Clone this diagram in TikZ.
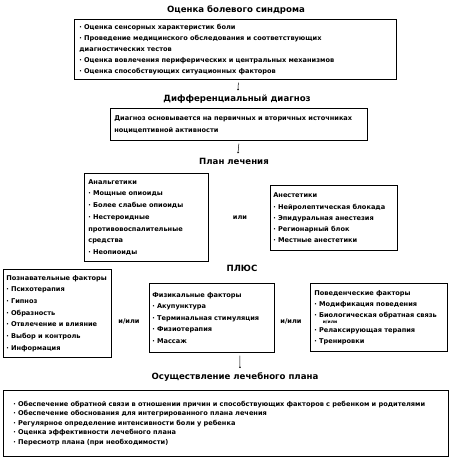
\documentclass[tikz,border=0pt]{standalone}
\usepackage{fontspec}
\setmainfont{DejaVu Sans}
\usetikzlibrary{arrows.meta,calc}
\begin{document}
\begin{tikzpicture}[x=1pt,y=-1pt,
  box/.style={draw, line width=0.7pt, anchor=north west, inner xsep=5pt, inner ysep=0pt, align=left},
  bt/.style={font=\bfseries\fontsize{6.6}{#1}\selectfont},
  ttl/.style={font=\bfseries\fontsize{8.6}{10}\selectfont},
  sm/.style={font=\bfseries\fontsize{6.6}{8}\selectfont},
  arr/.style={-{To[length=1.5pt,width=2pt]}, line width=0.5pt}]
\useasboundingbox (0,0) rectangle (450,458);

\node[ttl] (t1) at (236,10) {Оценка болевого синдрома};
\node[box, bt=11, text width=312pt, minimum height=60pt] (b1) at (74,19) {%
· Оценка сенсорных характеристик боли\\
· Проведение медицинского обследования и соответствующих\\
диагностических тестов\\
· Оценка вовлечения периферических и центральных механизмов\\
· Оценка способствующих ситуационных факторов};

\node[ttl] (t2) at (237,99) {Дифференциальный диагноз};
\node[box, bt=12, text width=249pt, minimum height=32pt, inner xsep=4pt] (b2) at (110,108) {%
Диагноз основывается на первичных и вторичных источниках\\
ноцицептивной активности};

\node[ttl] (t3) at (234,161) {План лечения};
\node[box, bt=11.7, text width=116pt, minimum height=88pt, inner xsep=4pt] (b3) at (84,173) {%
Анальгетики\\
· Мощные опиоиды\\
· Более слабые опиоиды\\
· Нестероидные\\
противовоспалительные\\
средства\\
· Неопиоиды};
\node[sm] (or1) at (240,218) {или};
\node[box, bt=11.2, text width=121pt, minimum height=65pt, inner xsep=3pt] (b4) at (270,185) {%
Анестетики\\
· Нейролептическая блокада\\
· Эпидуральная анестезия\\
· Регионарный блок\\
· Местные анестетики};

\node[ttl] (t4) at (242,268) {ПЛЮС};
\node[box, bt=11.7, text width=102pt, minimum height=88pt, inner xsep=3pt] (b5) at (3,269) {%
\mbox{Познавательные факторы}\\
· Психотерапия\\
· Гипноз\\
· Образность\\
· Отвлечение и влияние\\
· Выбор и контроль\\
· Информация};
\node[sm] (or2) at (129,321) {и/или};
\node[box, bt=11.5, text width=119pt, minimum height=69pt, inner xsep=3pt] (b6) at (149,283) {%
Физикальные факторы\\
· Акупунктура\\
· Терминальная стимуляция\\
· Физиотерапия\\
· Массаж};
\node[sm] (or3) at (291,321) {и/или};
\node[box, bt=11, text width=129pt, minimum height=68pt, inner xsep=4pt] (b7) at (310,283) {%
\mbox{Поведенческие факторы}\\
· Модификация поведения\\
\mbox{· Биологическая обратная связь}\\[4pt]
· Релаксирующая терапия\\
· Тренировки};
\node[font=\bfseries\fontsize{4.5}{5}\selectfont, inner sep=0pt] (or4) at (330,322) {и/или};

\node[ttl] (t5) at (235,377) {Осуществление лечебного плана};
\node[box, bt=9.6, text width=425pt, minimum height=66pt, inner xsep=10pt] (b8) at (3,390) {%
· Обеспечение обратной связи в отношении причин и способствующих факторов с ребенком и родителями\\
· Обеспечение обоснования для интегрированного плана лечения\\
· Регулярное определение интенсивности боли у ребенка\\
· Оценка эффективности лечебного плана\\
· Пересмотр плана (при необходимости)};

\draw[arr] ($(b1.south)+(3,3)$) -- ($(t2.north)+(1,-1)$);
\draw[arr] ($(b2.south)+(0,3)$) -- ($(t3.north)+(4,-1)$);
\draw[arr] ($(b6.south)+(28,3)$) -- ($(t5.north)+(5,-1)$);
\end{tikzpicture}
\end{document}
